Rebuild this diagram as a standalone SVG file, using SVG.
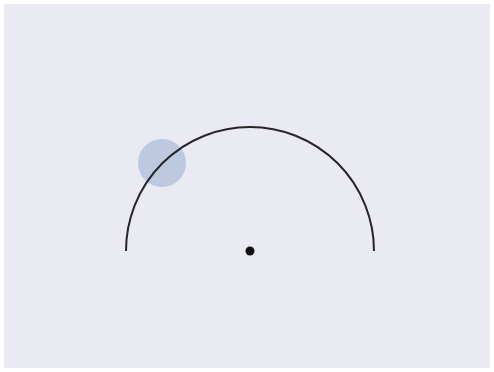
<svg xmlns="http://www.w3.org/2000/svg" width="494" height="372" viewBox="0 0 494 372">
<style>
.bg{fill:#eaeaf2}
.arc{fill:none;stroke:#262626;stroke-width:2}
.ball{fill:#b0c0dc;fill-opacity:0.8}
.pivot{fill:#111}
</style>
<rect width="494" height="372" fill="#ffffff"/>
<rect class="bg" x="4" y="4" width="486" height="364"/>
<g id="ball"><circle class="ball" cx="162" cy="163" r="24"/></g>
<g id="connectors"><path class="arc" d="M126,251 A124,124 0 0 1 374,251"/></g>
<g id="pivot"><circle class="pivot" cx="250" cy="251" r="4.5"/></g>
</svg>
